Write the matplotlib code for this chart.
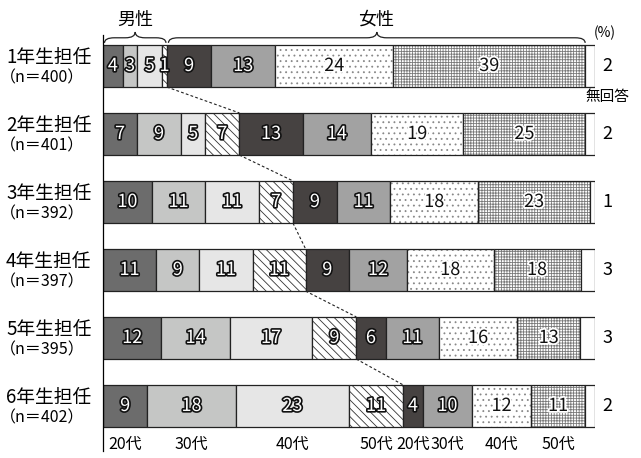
import matplotlib
matplotlib.use("Agg")
import matplotlib.pyplot as plt
import matplotlib.patheffects as pe
from matplotlib.path import Path
from matplotlib.patches import PathPatch
import matplotlib.transforms as mtransforms
import numpy as np

plt.rcParams['font.family'] = ['Noto Sans CJK JP', 'DejaVu Sans']
plt.rcParams['hatch.linewidth'] = 0.6

grades = ["1年生担任", "2年生担任", "3年生担任", "4年生担任", "5年生担任", "6年生担任"]
counts = ["（n＝400）", "（n＝401）", "（n＝392）", "（n＝397）", "（n＝395）", "（n＝402）"]
age_labels = ["20代", "30代", "40代", "50代", "20代", "30代", "40代", "50代"]

# 男性 20代,30代,40代,50代 / 女性 20代,30代,40代,50代 / 無回答
male_20 = [4, 7, 10, 11, 12, 9]
male_30 = [3, 9, 11, 9, 14, 18]
male_40 = [5, 5, 11, 11, 17, 23]
male_50 = [1, 7, 7, 11, 9, 11]
female_20 = [9, 13, 9, 9, 6, 4]
female_30 = [13, 14, 11, 12, 11, 10]
female_40 = [24, 19, 18, 18, 16, 12]
female_50 = [39, 25, 23, 18, 13, 11]
no_answer = [2, 2, 1, 3, 3, 2]

series = [male_20, male_30, male_40, male_50, female_20, female_30, female_40, female_50, no_answer]
styles = [
    dict(color="#6c6c6c", hatch=None, hc=None, text="light"),
    dict(color="#c5c6c5", hatch=None, hc=None, text="light"),
    dict(color="#e6e6e6", hatch=None, hc=None, text="light"),
    dict(color="white", hatch="\\\\\\\\", hc="#333333", text="light"),
    dict(color="#464241", hatch=None, hc=None, text="light"),
    dict(color="#a2a2a2", hatch=None, hc=None, text="light"),
    dict(color="white", hatch="...", hc="#888888", text="dark"),
    dict(color="white", hatch="++++++", hc="#7a7a7a", text="dark"),
    dict(color="white", hatch=None, hc=None, text=None),
]

data = np.array(series, dtype=float)
totals = data.sum(axis=0)
widths = data / totals * 100
lefts = np.vstack([np.zeros(len(grades)), np.cumsum(widths, axis=0)[:-1]])

fig = plt.figure(figsize=(6.41, 4.58), dpi=100)
ax = fig.add_axes([103 / 641, 1 - 451 / 458, 492 / 641, (451 - 35) / 458])
ax.set_xlim(0, 100)
ax.set_ylim(5.662, -0.456)
for s in ["top", "right", "bottom"]:
    ax.spines[s].set_visible(False)
ax.spines["left"].set_linewidth(0.9)
ax.set_xticks([])
ax.set_yticks([])

bh = 0.62
ypos = np.arange(len(grades))
for k, st in enumerate(styles):
    if st["hatch"]:
        ax.barh(ypos, widths[k], left=lefts[k], height=bh, color=st["color"],
                hatch=st["hatch"], edgecolor=st["hc"], linewidth=0)
        ax.barh(ypos, widths[k], left=lefts[k], height=bh, fill=False,
                edgecolor="#222222", linewidth=0.9)
    else:
        ax.barh(ypos, widths[k], left=lefts[k], height=bh, color=st["color"],
                edgecolor="#222222", linewidth=0.9)
    if st["text"] is None:
        continue
    for i in range(len(grades)):
        cx = lefts[k][i] + widths[k][i] / 2
        if st["text"] == "light":
            ax.text(cx, i, str(series[k][i]), ha="center", va="center", fontsize=13,
                    color="white",
                    path_effects=[pe.withStroke(linewidth=2.4, foreground="#111111")])
        else:
            ax.text(cx, i, str(series[k][i]), ha="center", va="center", fontsize=13,
                    color="#111111",
                    path_effects=[pe.withStroke(linewidth=2.6, foreground="white")])

# 無回答 values
for i in range(len(grades)):
    ax.text(102.5, i, str(no_answer[i]), ha="center", va="center", fontsize=13, clip_on=False)
ax.text(102.6, 0.45, "無回答", ha="center", va="center", fontsize=10.5, clip_on=False)
ax.text(102.0, -0.49, "(%)", ha="center", va="center", fontsize=10, clip_on=False)

# dashed connectors at male/female boundary
male_end = lefts[4]
for i in range(len(grades) - 1):
    ax.plot([male_end[i], male_end[i + 1]], [i + bh / 2, i + 1 - bh / 2],
            color="#222222", linestyle=(0, (2.5, 2)), linewidth=0.8)

# left labels
trans = mtransforms.blended_transform_factory(fig.transFigure, ax.transData)
for i in range(len(grades)):
    ax.text(6 / 641, i - 0.12, grades[i], transform=trans, ha="left", va="center",
            fontsize=13.5, clip_on=False)
    ax.text(0 / 641, i + 0.18, counts[i], transform=trans, ha="left", va="center",
            fontsize=11.5, clip_on=False)

# bottom age labels under last row
last = len(grades) - 1
for k, lab in enumerate(age_labels):
    cx = lefts[k][last] + widths[k][last] / 2
    ax.text(cx, 5.57, lab, ha="center", va="center", fontsize=11.5, clip_on=False)


def brace(x0, x1, y_base, y_line, y_peak):
    r = min(2.0, (x1 - x0) / 6)
    xm = (x0 + x1) / 2
    verts = [
        (x0, y_base), (x0, y_line), (x0 + r, y_line),
        (xm - r, y_line), (xm, y_line), (xm, y_peak),
        (xm, y_line), (xm + r, y_line),
        (x1 - r, y_line), (x1, y_line), (x1, y_base),
    ]
    codes = [Path.MOVETO, Path.CURVE3, Path.CURVE3,
             Path.LINETO, Path.CURVE3, Path.CURVE3,
             Path.CURVE3, Path.CURVE3,
             Path.LINETO, Path.CURVE3, Path.CURVE3]
    ax.add_patch(PathPatch(Path(verts, codes), fill=False, lw=0.9,
                           edgecolor="#222222", clip_on=False))


female_end = lefts[8][0]
brace(0.3, male_end[0] - 0.2, -0.34, -0.415, -0.5)
brace(male_end[0] + 0.3, female_end, -0.34, -0.415, -0.5)
ax.text(male_end[0] / 2, -0.68, "男性", ha="center", va="center", fontsize=13, clip_on=False)
ax.text((male_end[0] + female_end) / 2, -0.68, "女性", ha="center", va="center",
        fontsize=13, clip_on=False)

fig.savefig("out.png", dpi=100)
